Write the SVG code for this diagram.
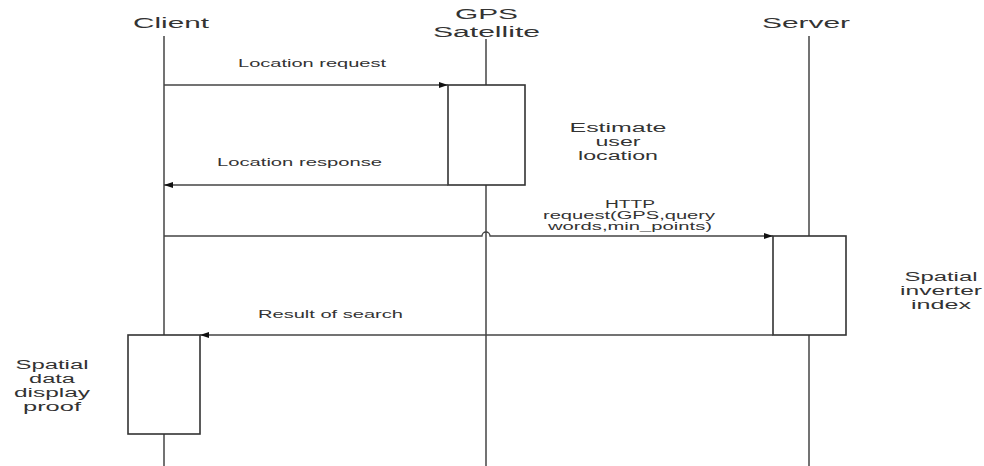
<svg xmlns="http://www.w3.org/2000/svg" width="984" height="466" viewBox="0 0 984 466">
<style>
text{font-family:"Liberation Sans",Arial,sans-serif;fill:#333}
.hd{font-size:14px}
.lb{font-size:10px}
.nt{font-size:12px}
.life{stroke:#444;stroke-width:1.5;fill:none}
.act{fill:#fff;stroke:#333;stroke-width:1.6}
.msg{stroke:#444;stroke-width:1.3;fill:none}
</style>
<defs>
<marker id="ah" markerWidth="9" markerHeight="6" refX="9" refY="3" orient="auto" markerUnits="userSpaceOnUse">
<path d="M0,0 L9,3 L0,6 Z" fill="#111"/>
</marker>
</defs>
<rect width="984" height="466" fill="#fff"/>
<g id="client">
<text class="hd" x="133" y="28" textLength="76" lengthAdjust="spacingAndGlyphs">Client</text>
<line class="life" x1="164" y1="36" x2="164" y2="466"/>
<rect class="act" x="128" y="335" width="72" height="99"/>
</g>
<g id="gps">
<text class="hd" x="455" y="19" textLength="63" lengthAdjust="spacingAndGlyphs">GPS</text>
<text class="hd" x="433" y="37" textLength="107" lengthAdjust="spacingAndGlyphs">Satellite</text>
<line class="life" x1="486" y1="39" x2="486" y2="466"/>
<rect class="act" x="448" y="85" width="77" height="100"/>
</g>
<g id="server">
<text class="hd" x="762" y="28" textLength="88" lengthAdjust="spacingAndGlyphs">Server</text>
<line class="life" x1="809" y1="36" x2="809" y2="466"/>
<rect class="act" x="773" y="236" width="73" height="99"/>
</g>
<g id="note-estimate">
<text class="nt" x="618" y="132" text-anchor="middle" textLength="97" lengthAdjust="spacingAndGlyphs">Estimate</text>
<text class="nt" x="618" y="146" text-anchor="middle" textLength="45" lengthAdjust="spacingAndGlyphs">user</text>
<text class="nt" x="618" y="160" text-anchor="middle" textLength="80" lengthAdjust="spacingAndGlyphs">location</text>
</g>
<g id="note-spatial-index">
<text class="nt" x="941" y="281" text-anchor="middle" textLength="73" lengthAdjust="spacingAndGlyphs">Spatial</text>
<text class="nt" x="941" y="295" text-anchor="middle" textLength="82" lengthAdjust="spacingAndGlyphs">inverter</text>
<text class="nt" x="941" y="309" text-anchor="middle" textLength="60" lengthAdjust="spacingAndGlyphs">index</text>
</g>
<g id="note-display">
<text class="nt" x="52" y="369" text-anchor="middle" textLength="73" lengthAdjust="spacingAndGlyphs">Spatial</text>
<text class="nt" x="52" y="383" text-anchor="middle" textLength="46" lengthAdjust="spacingAndGlyphs">data</text>
<text class="nt" x="52" y="397" text-anchor="middle" textLength="76" lengthAdjust="spacingAndGlyphs">display</text>
<text class="nt" x="52" y="411" text-anchor="middle" textLength="58" lengthAdjust="spacingAndGlyphs">proof</text>
</g>
<g id="connectors">
<line class="msg" x1="164" y1="85" x2="448" y2="85" marker-end="url(#ah)"/>
<text class="lb" x="238" y="67" textLength="148" lengthAdjust="spacingAndGlyphs">Location request</text>
<line class="msg" x1="448" y1="185" x2="164" y2="185" marker-end="url(#ah)"/>
<text class="lb" x="217" y="166" textLength="165" lengthAdjust="spacingAndGlyphs">Location response</text>
<path class="msg" d="M164,236 H482 A4,4 0 0 1 490,236 H773" marker-end="url(#ah)"/>
<text class="lb" x="630" y="208" text-anchor="middle" textLength="50" lengthAdjust="spacingAndGlyphs">HTTP</text>
<text class="lb" x="629" y="219" text-anchor="middle" textLength="172" lengthAdjust="spacingAndGlyphs">request(GPS,query</text>
<text class="lb" x="630" y="230" text-anchor="middle" textLength="164" lengthAdjust="spacingAndGlyphs">words,min_points)</text>
<line class="msg" x1="773" y1="335" x2="200" y2="335" marker-end="url(#ah)"/>
<text class="lb" x="258" y="318" textLength="145" lengthAdjust="spacingAndGlyphs">Result of search</text>
</g>
</svg>
